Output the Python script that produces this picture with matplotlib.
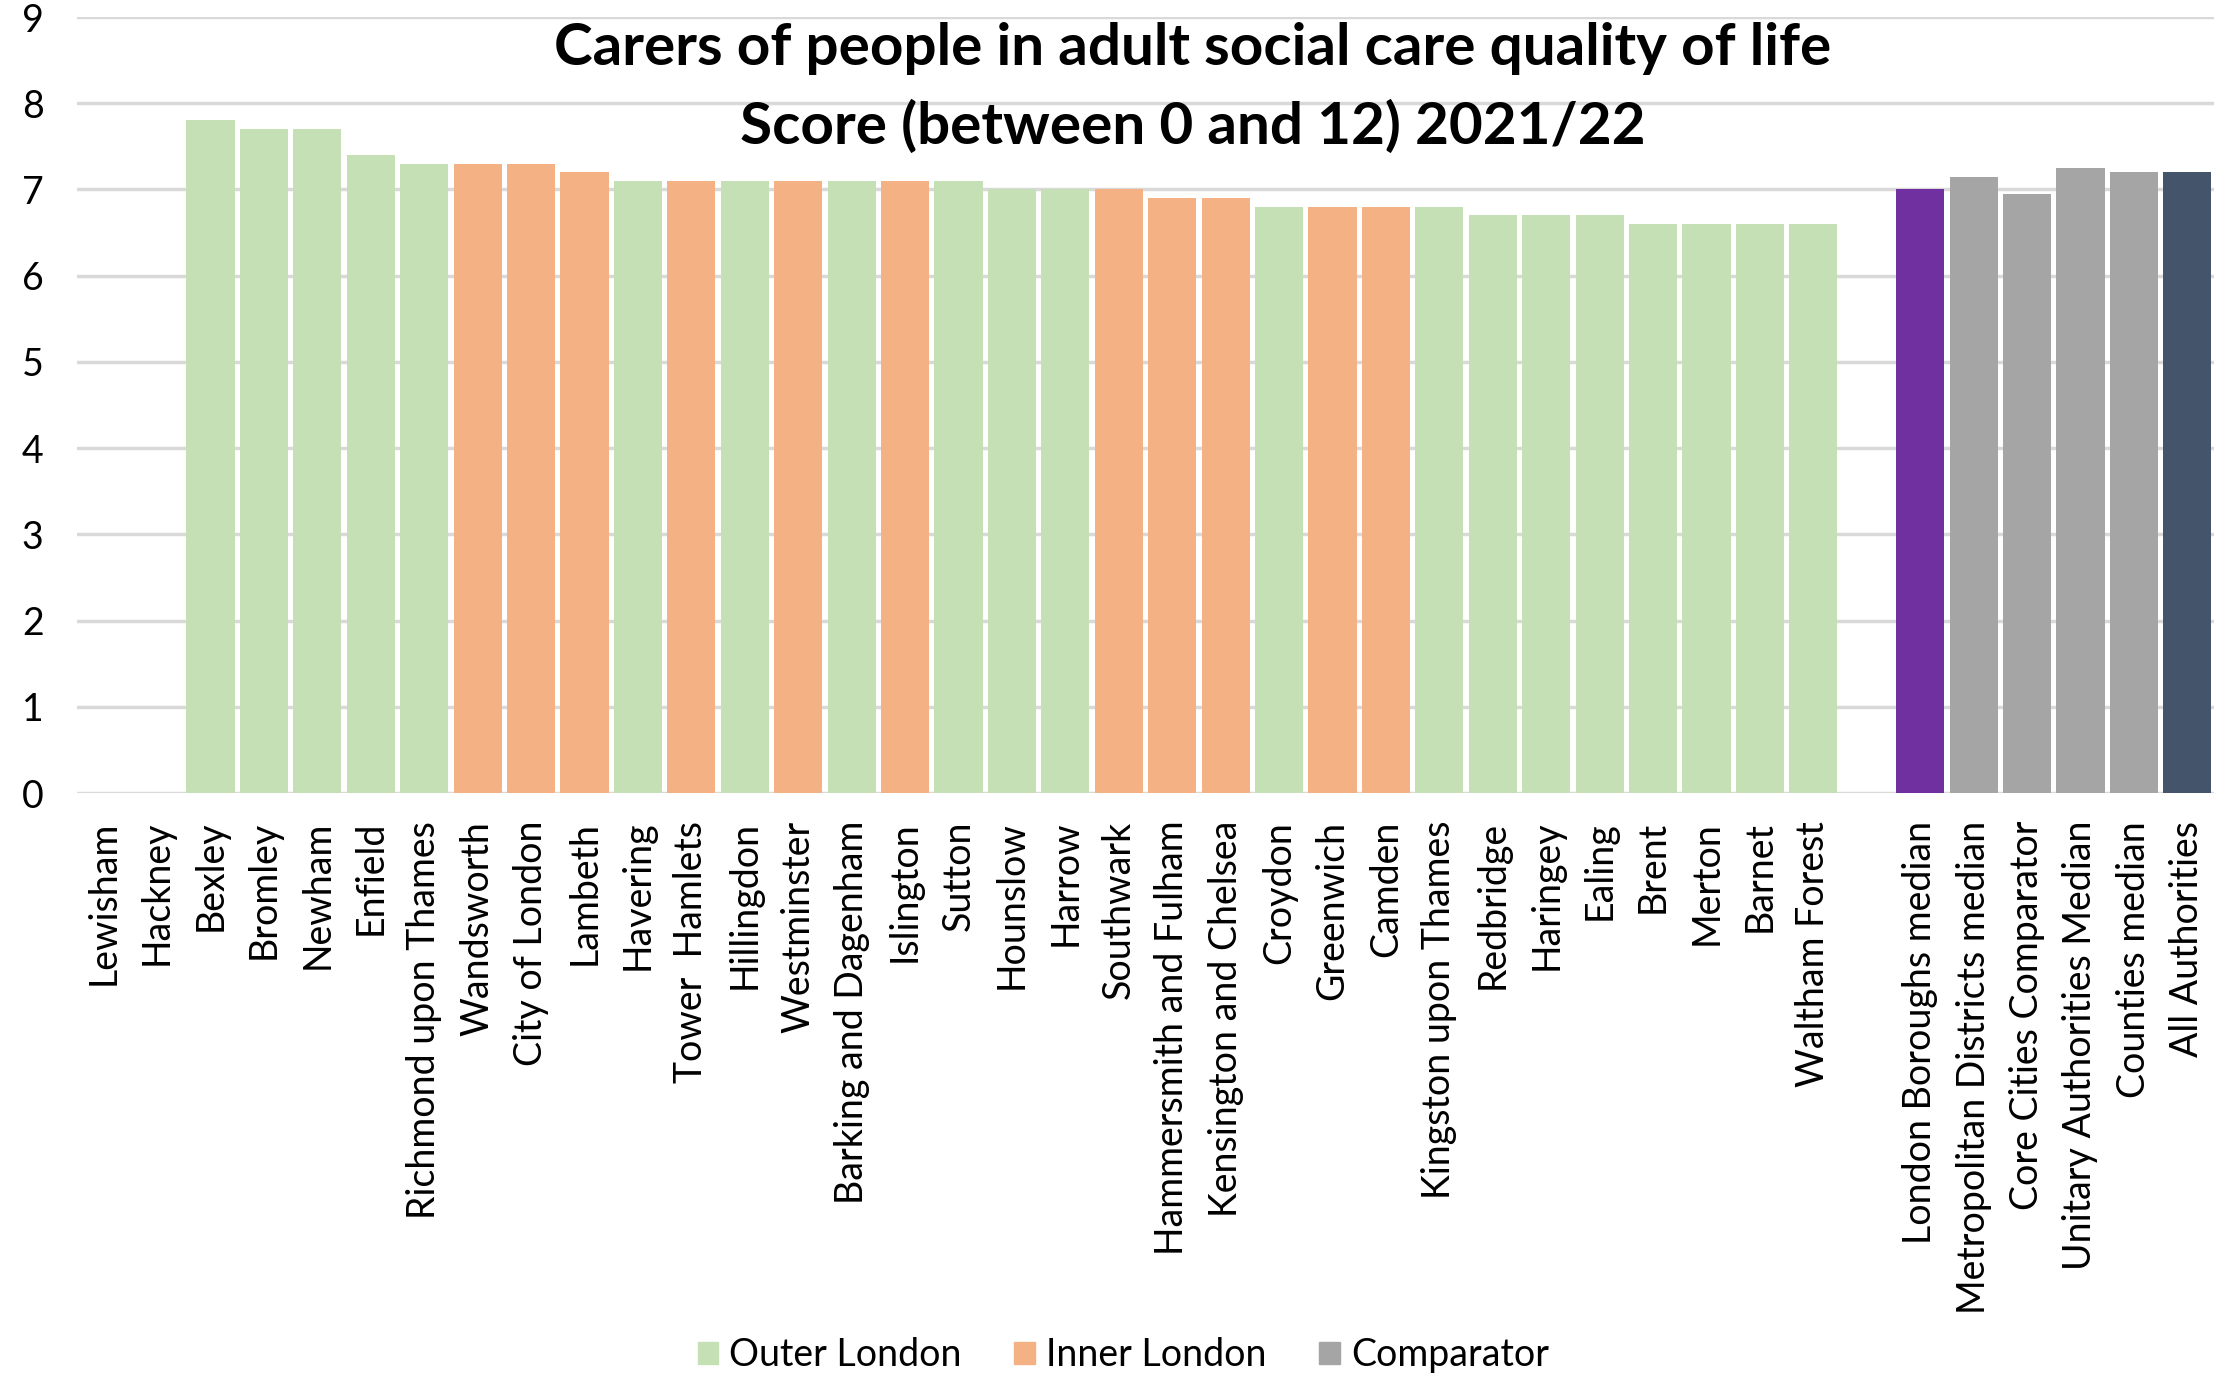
import numpy as np
import matplotlib
matplotlib.use('Agg')
from matplotlib import pyplot as plt
from matplotlib.patches import Patch

plt.rcParams['font.family'] = ['Lato', 'DejaVu Sans']

# boroughs, in the order they are ranked
boroughs = ["Lewisham", "Hackney", "Bexley", "Bromley", "Newham", "Enfield",
	"Richmond upon Thames", "Wandsworth", "City of London", "Lambeth", "Havering",
	"Tower  Hamlets", "Hillingdon", "Westminster", "Barking and Dagenham", "Islington",
	"Sutton", "Hounslow", "Harrow", "Southwark", "Hammersmith and Fulham",
	"Kensington and Chelsea", "Croydon", "Greenwich", "Camden", "Kingston upon Thames",
	"Redbridge", "Haringey", "Ealing", "Brent", "Merton", "Barnet", "Waltham Forest"]
borough_scores = [np.nan, np.nan, 7.8, 7.7, 7.7, 7.4,
	7.3, 7.3, 7.3, 7.2, 7.1,
	7.1, 7.1, 7.1, 7.1, 7.1,
	7.1, 7.0, 7.0, 7.0, 6.9,
	6.9, 6.8, 6.8, 6.8, 6.8,
	6.7, 6.7, 6.7, 6.6, 6.6, 6.6, 6.6]
# O = outer, I = inner
borough_region = ["O", "I", "O", "O", "O", "O",
	"O", "I", "I", "I", "O",
	"I", "O", "I", "O", "I",
	"O", "O", "O", "I", "I",
	"I", "O", "I", "I", "O",
	"O", "O", "O", "O", "O", "O", "O"]

comparators = ["London Boroughs median", "Metropolitan Districts median",
	"Core Cities Comparator", "Unitary Authorities Median", "Counties median",
	"All Authorities"]
comparator_scores = [7.0, 7.15, 6.95, 7.25, 7.2, 7.2]

green = '#c5e0b4'
orange = '#f4b183'
grey = '#a5a5a5'
comp_colours = ['#7030a0', grey, grey, grey, grey, '#44546a']

labels = boroughs + [""] + comparators
scores = borough_scores + [np.nan] + comparator_scores
colours = [green if r == "O" else orange for r in borough_region] + ['white'] + comp_colours
x = np.arange(len(labels))

fig = plt.figure(figsize=(22.29, 13.83), dpi=100)
ax = fig.add_axes([0.0345, 0.4266, 0.9588, 0.5611])

ax.bar(x, np.nan_to_num(scores), width=0.9, color=colours, zorder=3)

ax.set_xlim(-0.5, len(labels) - 0.5)
ax.set_ylim(0, 9)
ax.set_yticks(range(10))
ax.yaxis.grid(True, color='#d9d9d9', linewidth=2.5, zorder=0)
for s in ax.spines.values():
	s.set_visible(False)
ax.tick_params(axis='both', length=0, colors='#000000', labelsize=27)
ax.tick_params(axis='y', pad=24)
ax.tick_params(axis='x', pad=20)
ax.set_xticks(x)
ax.set_xticklabels(labels, rotation=90, va='top', ha='center')

fig.text(0.535, 0.984, "Carers of people in adult social care quality of life\nScore (between 0 and 12) 2021/22",
	ha='center', va='top', fontsize=42, fontweight='bold', linespacing=1.55)

handles = [Patch(color=green), Patch(color=orange), Patch(color=grey)]
fig.legend(handles, ["Outer London", "Inner London", "Comparator"], ncol=3,
	loc='center', bbox_to_anchor=(0.504, 0.02), frameon=False, fontsize=27,
	handlelength=0.55, handleheight=0.55, handletextpad=0.3, columnspacing=1.4)

plt.savefig("out.png", dpi=100)
plt.close()
